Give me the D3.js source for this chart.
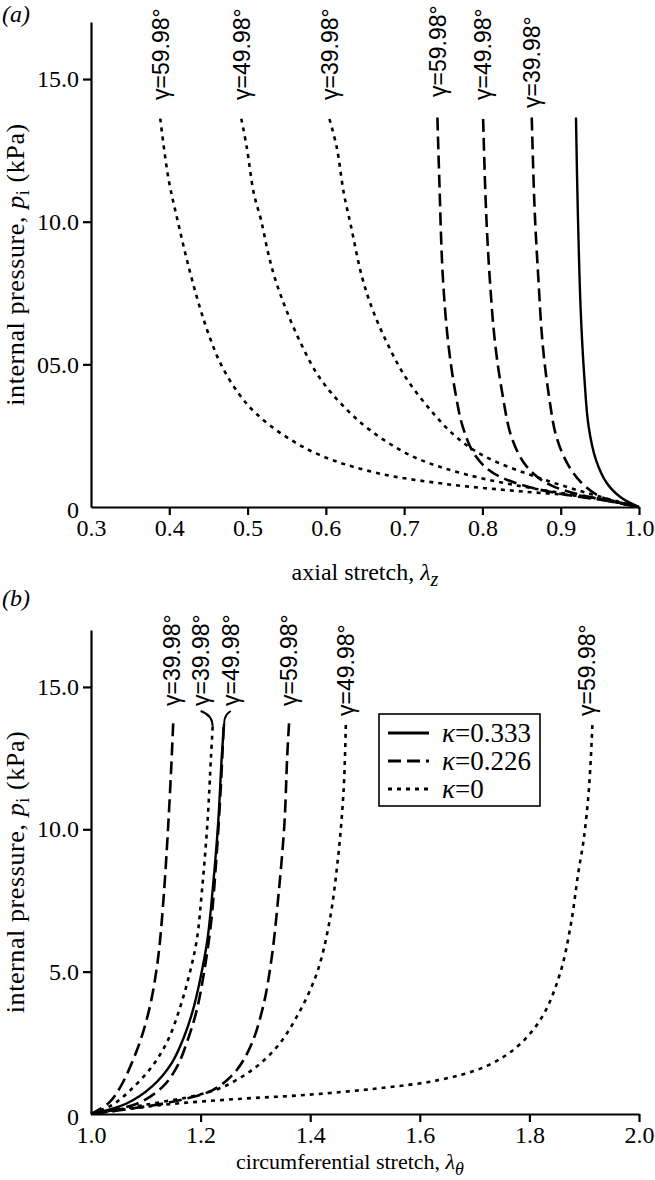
<!DOCTYPE html>
<html><head><meta charset="utf-8">
<script src="https://cdn.jsdelivr.net/npm/d3@7"></script>
<style>body{margin:0;background:#fff}</style>
</head><body><svg id="c" width="655" height="1180"></svg>
<script>
// ---------- DATA: panel (a) pressure vs axial stretch [stretch, pressure kPa] ----------
const a_k0_g60 = [[0.3885,13.61],[0.399,11.5],[0.411,10.0],[0.424,8.5],[0.439,7.0],[0.451,6.0],[0.466,5.0],[0.488,4.0],[0.510,3.3],[0.547,2.5],[0.594,1.8],[0.664,1.2],[0.755,0.8],[0.848,0.55],[0.940,0.33],[1.0,0]];
const a_k0_g50 = [[0.492,13.61],[0.4989,12.62],[0.508,10.99],[0.5172,10.06],[0.5264,8.89],[0.5356,7.96],[0.5494,6.91],[0.5678,5.75],[0.5908,4.58],[0.6184,3.65],[0.6552,2.72],[0.7103,1.78],[0.7793,1.14],[0.8713,0.62],[0.9402,0.33],[1.0,0]];
const a_k0_g40 = [[0.6046,13.6],[0.6138,12.62],[0.623,10.99],[0.6322,9.83],[0.646,8.08],[0.6598,6.91],[0.6782,5.75],[0.7011,4.58],[0.7333,3.41],[0.7655,2.48],[0.8023,1.78],[0.8713,1.03],[0.9402,0.44],[1.0,0]];
const a_k226_g60 = [[0.7425,13.65],[0.7448,11.57],[0.7494,8.08],[0.7563,5.75],[0.7655,4.0],[0.7747,2.83],[0.7885,1.90],[0.8069,1.32],[0.8299,0.97],[0.8713,0.62],[0.9172,0.38],[0.9632,0.21],[1.0,0]];
const a_k226_g50 = [[0.8009,13.6],[0.8046,10.41],[0.8092,8.08],[0.8161,5.75],[0.8253,4.0],[0.8368,2.48],[0.8529,1.55],[0.8713,1.03],[0.8943,0.68],[0.9402,0.33],[1.0,0]];
const a_k226_g40 = [[0.863,13.65],[0.8667,10.41],[0.8713,8.08],[0.8768,5.75],[0.885,3.88],[0.8943,2.48],[0.908,1.55],[0.9264,0.85],[0.9494,0.38],[0.977,0.15],[1.0,0]];
const a_k333 = [[0.9195,13.65],[0.9218,10.41],[0.9255,6.91],[0.9301,4.58],[0.9356,2.83],[0.9448,1.67],[0.9586,0.85],[0.977,0.33],[1.0,0]];

// ---------- DATA: panel (b) pressure vs circumferential stretch ----------
const b_k226_g40 = [[1.150,13.72],[1.146,12.0],[1.1405,10.0],[1.134,8.0],[1.1255,6.0],[1.119,5.0],[1.110,4.0],[1.097,3.0],[1.079,2.0],[1.055,1.0],[1.033,0.4],[1.0,0]];
const b_k0_g40 = [[1.222,13.6],[1.219,12.55],[1.2124,10.21],[1.2026,7.87],[1.193,6.11],[1.18,4.94],[1.163,3.77],[1.1405,2.6],[1.111,1.66],[1.072,0.84],[1.039,0.32],[1.0,0]];
const b_k333 = [[1.243,13.72],[1.2386,12.55],[1.232,10.21],[1.222,7.87],[1.2124,6.11],[1.199,4.71],[1.186,3.65],[1.17,2.72],[1.147,1.78],[1.111,0.96],[1.065,0.37],[1.0,0]];
const b_k226_g50 = [[1.242,13.6],[1.2366,11.38],[1.229,9.04],[1.219,6.70],[1.206,4.94],[1.193,3.65],[1.1765,2.6],[1.157,1.66],[1.131,0.96],[1.085,0.37],[1.0,0]];
const b_k226_g60 = [[1.3614,13.72],[1.358,12.55],[1.353,10.21],[1.343,7.87],[1.33,5.53],[1.314,3.77],[1.291,2.37],[1.261,1.43],[1.222,0.84],[1.163,0.49],[1.098,0.26],[1.0,0]];
const b_k0_g50 = [[1.465,13.66],[1.461,11.38],[1.451,9.04],[1.4346,6.70],[1.412,4.94],[1.379,3.54],[1.34,2.37],[1.294,1.55],[1.242,0.96],[1.196,0.67],[1.098,0.32],[1.0,0]];
const b_k0_g60 = [[1.915,13.66],[1.9085,11.38],[1.899,9.63],[1.889,8.45],[1.876,6.70],[1.856,4.94],[1.8235,3.42],[1.778,2.37],[1.719,1.66],[1.634,1.19],[1.523,0.90],[1.392,0.67],[1.261,0.52],[1.131,0.32],[1.0,0]];

// tick labels
const aXTicks = [0.3,0.4,0.5,0.6,0.7,0.8,0.9,1.0];
const aXTickLabels = ["0.3","0.4","0.5","0.6","0.7","0.8","0.9","1.0"];
const aYTicks = [0,5,10,15];
const aYTickLabels = ["0","05.0","10.0","15.0"];
const bXTicks = [1.0,1.2,1.4,1.6,1.8,2.0];
const bXTickLabels = ["1.0","1.2","1.4","1.6","1.8","2.0"];
const bYTicks = [0,5,10,15];
const bYTickLabels = ["0","5.0","10.0","15.0"];

const legendKappa = ["0.333","0.226","0"];
const legendStyles = ["solid","dashed","dotted"];

// series lists: data, style, label (gamma), label x (data units)
const seriesA = [
  {d:a_k0_g60, s:"dotted", g:"59.98", lx:0.3885},
  {d:a_k0_g50, s:"dotted", g:"49.98", lx:0.492},
  {d:a_k0_g40, s:"dotted", g:"39.98", lx:0.6046},
  {d:a_k226_g60, s:"dashed", g:"59.98", lx:0.7425, ly:97},
  {d:a_k226_g50, s:"dashed", g:"49.98", lx:0.8009},
  {d:a_k226_g40, s:"dashed", g:"39.98", lx:0.863, ly:108},
  {d:a_k333, s:"solid", g:null}
];
const seriesB = [
  {d:b_k226_g40, s:"dashed", g:"39.98", lx:1.148},
  {d:b_k0_g40, s:"dotted", g:"39.98", lx:1.200},
  {d:b_k226_g50, s:"dashed", g:null},
  {d:b_k333, s:"solid", g:"49.98", lx:1.255},
  {d:b_k226_g60, s:"dashed", g:"59.98", lx:1.360},
  {d:b_k0_g50, s:"dotted", g:"49.98", lx:1.464, ly:716},
  {d:b_k0_g60, s:"dotted", g:"59.98", lx:1.905, ly:716}
];

// ---------- DRAW ----------
const svg = d3.select("#c");
const SERIF = "'Liberation Serif','Times New Roman',Times,serif";
const SANS = "'Liberation Sans',Arial,Helvetica,sans-serif";
const dashes = {solid:null, dashed:"13,6", dotted:"4,5"};

function panel(cfg){
  const x = d3.scaleLinear().domain(cfg.xd).range([91,639]);
  const y = d3.scaleLinear().domain([0,17]).range(cfg.yr);
  const g = svg.append("g");
  const xa = g.append("g").attr("transform",`translate(0,${cfg.yr[0]})`)
    .call(d3.axisBottom(x).tickValues(cfg.xt).tickFormat((d,i)=>cfg.xl[i]).tickSize(8).tickSizeOuter(0).tickPadding(4));
  const ya = g.append("g").attr("transform","translate(91,0)")
    .call(d3.axisLeft(y).tickValues(cfg.yt).tickFormat((d,i)=>cfg.yl[i]).tickSize(8).tickSizeOuter(0).tickPadding(4));
  [xa,ya].forEach(a=>{
    a.attr("font-family",SERIF).attr("font-size",24);
    a.select(".domain").attr("stroke","#000").attr("stroke-width",2.2);
    a.selectAll(".tick line").attr("stroke","#000").attr("stroke-width",2.2);
    a.selectAll(".tick text").attr("fill","#000").style("font-family",SERIF).style("font-size","24px");
  });
  xa.selectAll(".tick").filter((d,i)=>i===0).select("line").remove();
  ya.selectAll(".tick").filter(d=>d===0).select("line").remove();
  ya.selectAll(".tick").filter(d=>d===0).select("text").attr("dy","0.45em");

  const line = d3.line().x(d=>x(d[0])).y(d=>y(d[1])).curve(d3.curveCatmullRom.alpha(0.5));
  cfg.series.forEach(s=>{
    g.append("path").attr("d",line(s.d)).attr("fill","none").attr("stroke","#000")
      .attr("stroke-width", s.s==="solid"?2.4:2.6)
      .attr("stroke-dasharray", dashes[s.s]);
    if(s.g){
      const lx = x(s.lx), ly = s.ly || cfg.labelY;
      g.append("text").attr("transform",`translate(${lx},${ly}) rotate(-90)`)
        .attr("dy","0.36em").style("font-family",SANS).style("font-size","23px")
        .text(`γ=${s.g}°`);
    }
  });
  const yl = g.append("text").attr("transform",`translate(24,${(cfg.yr[0]+cfg.yr[1])/2}) rotate(-90)`)
    .attr("text-anchor","middle").style("font-family",SERIF).style("font-size","26px")
    .style("letter-spacing","0.6px");
  yl.append("tspan").text("internal pressure, ");
  yl.append("tspan").style("font-style","italic").text("p");
  yl.append("tspan").attr("dy",5).style("font-size","18px").text("i");
  yl.append("tspan").attr("dy",-5).text(" (kPa)");
  const xl = g.append("text").attr("x",cfg.xtX).attr("y",cfg.xtY)
    .attr("text-anchor","middle").style("font-family",SERIF).style("font-size",cfg.xtF+"px");
  xl.append("tspan").text(cfg.xtitle);
  xl.append("tspan").style("font-style","italic").text("λ");
  xl.append("tspan").attr("dy",6).style("font-style","italic").style("font-size",(cfg.xtF-4)+"px").text(cfg.sub);
  g.append("text").attr("x",2).attr("y",cfg.tag[1]).style("font-family",SERIF).style("font-size","24px")
    .style("font-style","italic").text(cfg.tag[0]);
  return {x,y,g};
}

const A = panel({xd:[0.3,1.0], yr:[507,22], xt:aXTicks, xl:aXTickLabels, yt:aYTicks, yl:aYTickLabels,
  series:seriesA, labelY:100, xtitle:"axial stretch, ", sub:"z", tag:["(a)",22], xtY:580, xtX:365, xtF:24});
const B = panel({xd:[1.0,2.0], yr:[1114,630], xt:bXTicks, xl:bXTickLabels, yt:bYTicks, yl:bYTickLabels,
  series:seriesB, labelY:706, xtitle:"circumferential stretch, ", sub:"θ", tag:["(b)",606], xtY:1169, xtX:350, xtF:22});

// connectors from labels to closely spaced curve tops in panel (b)
const conn = [[1.200, b_k0_g40[0]], [1.255, b_k333[0]]];
conn.forEach(c=>{
  const x0 = B.x(c[0]) , y0 = 711, x1 = B.x(c[1][0]), y1 = B.y(c[1][1]);
  B.g.append("path").attr("d",`M${x0},${y0} Q${x1},${y0+4} ${x1},${y1}`)
    .attr("fill","none").attr("stroke","#000").attr("stroke-width",2);
});

// legend
const lg = svg.append("g").attr("transform","translate(379,714)");
lg.append("rect").attr("width",161).attr("height",92).attr("fill","#fff").attr("stroke","#000").attr("stroke-width",1.6);
legendKappa.forEach((k,i)=>{
  const yy = 19 + i*28;
  lg.append("line").attr("x1",9).attr("x2",50).attr("y1",yy).attr("y2",yy)
    .attr("stroke","#000").attr("stroke-width",2.8).attr("stroke-dasharray",dashes[legendStyles[i]]);
  const t = lg.append("text").attr("x",63).attr("y",yy+9).style("font-family",SERIF).style("font-size","27px");
  t.append("tspan").style("font-style","italic").text("κ");
  t.append("tspan").text("=" + k);
});
</script></body></html>
